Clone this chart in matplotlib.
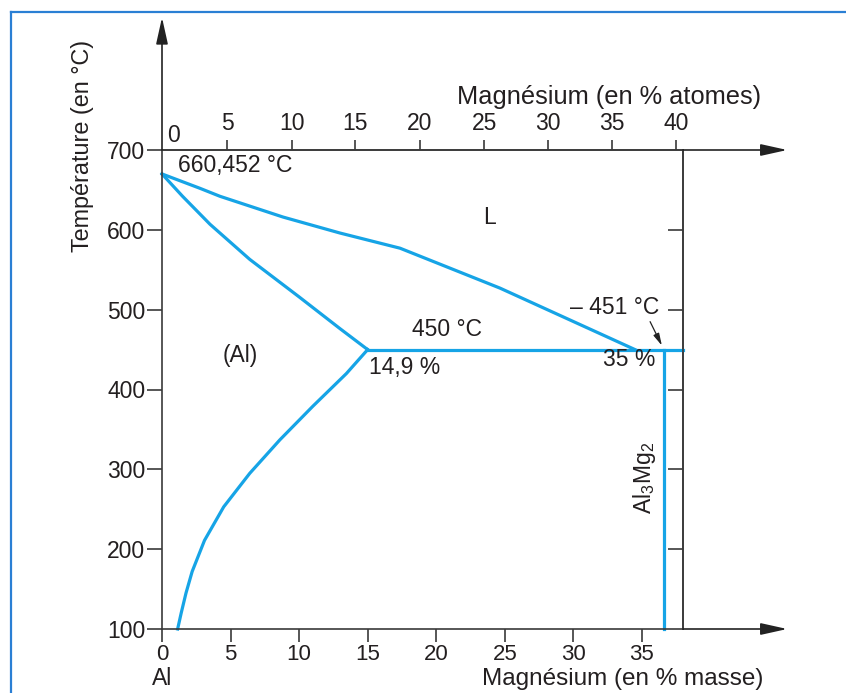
import numpy as np
import matplotlib
matplotlib.use("Agg")
import matplotlib.pyplot as plt
from matplotlib.lines import Line2D

plt.rcParams['font.family'] = ['Liberation Sans', 'DejaVu Sans']
plt.rcParams['mathtext.fontset'] = 'custom'
plt.rcParams['mathtext.rm'] = 'Liberation Sans'
plt.rcParams['mathtext.it'] = 'Liberation Sans:italic'

# ---------------- data ----------------
liquidus_mass = [0, 2.77, 4.23, 8.83, 12.98, 17.36, 24.65, 34.5]
liquidus_T = [670, 652, 642, 616, 596, 577, 527, 450]

solidus_mass = [0, 1.5, 3.5, 6.4, 10.0, 13.0, 15.0]
solidus_T = [670, 642, 607, 563, 516, 476, 450]

solvus_mass = [15.0, 13.45, 11.0, 8.6, 6.4, 4.5, 3.1, 2.2, 1.75, 1.4, 1.14]
solvus_T = [450, 420, 379, 337, 295, 253, 211, 172, 145, 120, 100]

eutectic_mass = [15.0, 38.0]
eutectic_T = [450, 450]

al3mg2_mass = [36.6, 36.6]
al3mg2_T = [450, 100]

mass_ticks = [0, 5, 10, 15, 20, 25, 30, 35]
temp_ticks = [100, 200, 300, 400, 500, 600, 700]
right_ticks = [200, 300, 400, 500, 600]
atom_labels = ['5', '10', '15', '20', '25', '30', '35', '40']
atom_tick_mass = [4.74, 9.48, 14.1, 18.8, 23.5, 28.15, 32.8, 37.5]

BLUE = '#16a4e6'
DARK = '#3a3a3a'
TXT = '#231f20'

fig = plt.figure(figsize=(8.46, 6.93), dpi=100)
W, H = 846, 693
ax = fig.add_axes([162 / W, (H - 629) / H, (683 - 162) / W, (629 - 150) / H])
ax.set_xlim(0, 38)
ax.set_ylim(100, 700)

for s in ax.spines.values():
    s.set_color(DARK)
    s.set_linewidth(1.2)

ax.set_xticks(mass_ticks)
ax.set_xticklabels([str(v) for v in mass_ticks])
ax.set_yticks(temp_ticks)
ax.set_yticklabels([str(v) for v in temp_ticks])
ax.tick_params(axis='x', direction='out', length=9, width=1.2, color=DARK,
               labelsize=16, pad=2, labelcolor=TXT, top=False)
ax.tick_params(axis='y', direction='out', length=10.5, width=1.2, color=DARK,
               labelsize=16.5, pad=1.5, labelcolor=TXT, right=False)

# top axis: atomic %
secx = ax.secondary_xaxis('top')
secx.set_xticks(atom_tick_mass)
secx.set_xticklabels(atom_labels)
secx.tick_params(direction='out', length=7, width=1.2, color=DARK,
                 labelsize=16.5, pad=4, labelcolor=TXT)
secx.spines['top'].set_color(DARK)
secx.spines['top'].set_linewidth(1.2)
ax.text(0.35, 704, '0', fontsize=16.5, color=TXT, ha='left', va='bottom')

# right inner ticks
secy = ax.secondary_yaxis('right')
secy.set_yticks(right_ticks)
secy.set_yticklabels([])
secy.tick_params(direction='in', length=11, width=1.2, color=DARK)
secy.spines['right'].set_color(DARK)
secy.spines['right'].set_linewidth(1.2)

# axis arrows
arrow_kw = dict(arrowstyle='-|>,head_length=0.9,head_width=0.2', color='#222222',
                lw=1.2, mutation_scale=18, shrinkA=0, shrinkB=0)
ax.annotate('', xy=(0, 866), xytext=(0, 700), arrowprops=arrow_kw, annotation_clip=False)
ax.annotate('', xy=(45.6, 100), xytext=(38, 100), arrowprops=arrow_kw, annotation_clip=False)
ax.annotate('', xy=(45.6, 700), xytext=(38, 700), arrowprops=arrow_kw, annotation_clip=False)

# phase lines
lw = 2.3
ax.plot(liquidus_mass, liquidus_T, color=BLUE, lw=lw, solid_joinstyle='round', clip_on=False)
ax.plot(solidus_mass, solidus_T, color=BLUE, lw=lw, solid_joinstyle='round', clip_on=False)
ax.plot(solvus_mass, solvus_T, color=BLUE, lw=lw, solid_joinstyle='round', clip_on=False)
ax.plot(eutectic_mass, eutectic_T, color=BLUE, lw=lw, clip_on=False)
ax.plot(al3mg2_mass, al3mg2_T, color=BLUE, lw=lw, clip_on=False)

# annotations
fs = 16.5
ax.text(1.16, 681, '660,452 °C', fontsize=fs, color=TXT, ha='left', va='center')
ax.text(23.9, 615, 'L', fontsize=fs, color=TXT, ha='center', va='center')
ax.text(5.7, 443, '(Al)', fontsize=fs, color=TXT, ha='center', va='center')
ax.text(20.8, 475, '450 °C', fontsize=fs, color=TXT, ha='center', va='center')
ax.text(15.1, 427, '14,9 %', fontsize=fs, color=TXT, ha='left', va='center')
ax.text(36.0, 437, '35 %', fontsize=fs, color=TXT, ha='right', va='center')
ax.text(36.3, 503, '– 451 °C', fontsize=fs, color=TXT, ha='right', va='center')
ax.annotate('', xy=(36.46, 455), xytext=(35.6, 485),
            arrowprops=dict(arrowstyle='-|>,head_length=0.6,head_width=0.15',
                            color='#222222', lw=0.9, mutation_scale=12,
                            shrinkA=0, shrinkB=0), annotation_clip=False)
ax.text(35.2, 289, 'Al$_3$Mg$_2$', fontsize=fs, color=TXT, ha='center', va='center',
        rotation=90)
ax.text(0, 23, 'Al', fontsize=fs, color=TXT, ha='center', va='bottom', clip_on=False)

# axis titles
ax.text(33.6, 23, 'Magnésium (en % masse)', fontsize=17.5, color=TXT,
        ha='center', va='bottom')
ax.text(32.6, 767, 'Magnésium (en % atomes)', fontsize=18.3, color=TXT,
        ha='center', va='center')
ax.text(-5.82, 705, 'Température (en °C)', fontsize=16.8, color=TXT,
        ha='center', va='center', rotation=90)

# frame of the figure box
fc = '#2a7fd4'
fig.add_artist(Line2D([11 / W, 11 / W], [0, (H - 12) / H], transform=fig.transFigure,
                      color=fc, lw=1.6))
fig.add_artist(Line2D([11 / W, 1], [(H - 12) / H, (H - 12) / H], transform=fig.transFigure,
                      color=fc, lw=1.6))

fig.savefig('out.png', dpi=100)
